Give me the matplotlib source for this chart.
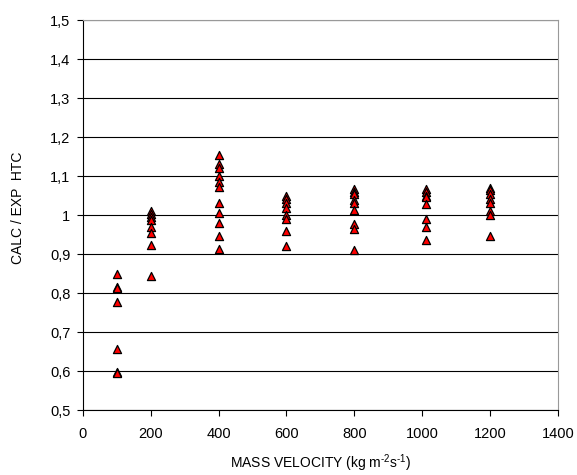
import numpy as np
import matplotlib
matplotlib.use("Agg")
import matplotlib.pyplot as plt

plt.rcParams['font.family'] = ['Liberation Sans', 'DejaVu Sans']
plt.rcParams['mathtext.fontset'] = 'custom'
plt.rcParams['mathtext.rm'] = 'Liberation Sans'

# mass velocity columns and the calc/exp HTC ratios at each
g_100 = [0.85, 0.816, 0.813, 0.778, 0.656, 0.598, 0.594]
g_200 = [1.01, 1.003, 0.996, 0.987, 0.97, 0.955, 0.922, 0.843]
g_400 = [1.155, 1.13, 1.12, 1.1, 1.085, 1.072, 1.032, 1.005, 0.98, 0.947, 0.913]
g_600 = [1.05, 1.04, 1.03, 1.018, 1.0, 0.99, 0.96, 0.92]
g_800 = [1.066, 1.06, 1.055, 1.038, 1.03, 1.012, 0.977, 0.965, 0.91]
g_1010 = [1.066, 1.06, 1.05, 1.045, 1.028, 0.99, 0.97, 0.936]
g_1200 = [1.07, 1.063, 1.055, 1.04, 1.03, 1.01, 1.0, 0.946]

mass_vel = [100, 200, 400, 600, 800, 1010, 1200]
ratios = [g_100, g_200, g_400, g_600, g_800, g_1010, g_1200]

yticks = [0.5, 0.6, 0.7, 0.8, 0.9, 1.0, 1.1, 1.2, 1.3, 1.4, 1.5]
ytick_labels = ["0,5", "0,6", "0,7", "0,8", "0,9", "1", "1,1", "1,2", "1,3", "1,4", "1,5"]
xticks = [0, 200, 400, 600, 800, 1000, 1200, 1400]

fig = plt.figure(figsize=(5.77, 4.75), dpi=100)
ax = fig.add_axes([0.1438, 0.1368, 0.823, 0.821])

for g, vals in zip(mass_vel, ratios):
    ax.scatter([g] * len(vals), vals, marker="^", s=34, facecolor="#ff0000",
               edgecolor="black", linewidth=0.9, zorder=3)

ax.set_xlim(0, 1400)
ax.set_ylim(0.5, 1.5)
ax.set_xticks(xticks)
ax.set_yticks(yticks)
ax.set_yticklabels(ytick_labels)
ax.yaxis.grid(True, color="black", linewidth=0.8)
ax.set_axisbelow(True)

for side in ["top", "right"]:
    ax.spines[side].set_color("#999999")
for side in ["left", "bottom"]:
    ax.spines[side].set_color("black")
ax.tick_params(direction="out", length=4, width=0.8, labelsize=10.5)
ax.tick_params(axis="y", pad=5)
ax.tick_params(axis="x", pad=8)

ax.set_xlabel(r"MASS VELOCITY (kg m$^{\text{-}2}$s$^{\text{-}1}$)", fontsize=10)
ax.set_ylabel("CALC / EXP  HTC", fontsize=10)
ax.xaxis.set_label_coords(0.5, -0.108)
ax.yaxis.set_label_coords(-0.122, 0.519)

plt.savefig("out.png", dpi=100)
